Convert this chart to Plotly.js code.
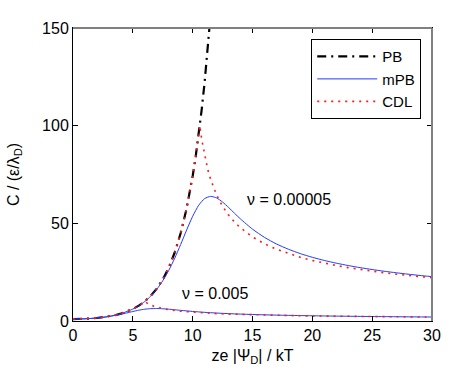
<!DOCTYPE html>
<html>
<head>
<meta charset="utf-8">
<script src="https://cdn.plot.ly/plotly-3.0.1.min.js"></script>
<style>html,body{margin:0;padding:0;background:#fff;}#chart{width:476px;height:374px;}</style>
</head>
<body>
<div id="chart"></div>
<script>
// PB (Poisson-Boltzmann)
var psiPB = [0,0.5,1,1.5,2,2.5,3,3.5,4,4.5,5,5.5,6,6.5,7,7.5,8,8.5,9,9.5,9.75,10,10.25,10.5,10.75,11,11.25,11.5];
var cPB   = [1.000,1.031,1.128,1.295,1.543,1.888,2.352,2.964,3.762,4.797,6.132,7.853,10.07,12.91,16.57,21.27,27.31,35.06,45.01,57.80,65.5,74.21,84.1,95.28,108.0,122.3,138.6,157.0];

// mPB, nu = 0.00005
var psiMPB1 = [0,1,2,3,4,5,5.5,6,6.5,7,7.5,8,8.5,9,9.5,10,10.5,11,11.5,12,12.5,13,13.5,14,15,16,17,18,19,20,21,22,23,24,25,26,27,28,29,30];
var cMPB1   = [1.000,1.128,1.543,2.351,3.758,6.115,7.817,9.99,12.75,16.24,20.58,25.88,32.15,39.22,46.64,53.6,59.22,62.68,63.8,63.01,60.9,58.12,55.13,52.22,47.01,42.81,39.44,36.75,34.49,32.61,31.00,29.61,28.39,27.31,26.35,25.48,24.69,23.97,23.31,22.70];

// mPB, nu = 0.005
var psiMPB2 = [0,1,2,3,4,4.5,5,5.5,6,6.5,7,7.5,8,9,10,11,12,13,14,15,16,17,18,19,20,21,22,23,24,25,26,27,28,29,30];
var cMPB2   = [1.000,1.125,1.527,2.276,3.430,4.136,4.863,5.529,6.038,6.328,6.390,6.272,6.039,5.451,4.895,4.436,4.069,3.774,3.532,3.331,3.161,3.014,2.886,2.773,2.672,2.581,2.499,2.425,2.356,2.294,2.236,2.182,2.132,2.085,2.041];

// CDL, nu = 0.00005
var psiCDL1 = [0,0.5,1,1.5,2,2.5,3,3.5,4,4.5,5,5.5,6,6.5,7,7.5,8,8.5,9,9.5,9.75,10,10.25,10.5,10.597,10.75,11,11.25,11.5,12,12.5,13,13.5,14,15,16,17,18,19,20,21,22,23,24,25,26,27,28,29,30];
var cCDL1   = [1.000,1.031,1.128,1.295,1.543,1.888,2.352,2.964,3.762,4.797,6.132,7.853,10.07,12.91,16.57,21.27,27.31,35.06,45.01,57.80,65.5,74.21,84.1,95.28,100.0,93.13,84.43,77.78,72.49,64.51,58.69,54.21,50.62,47.66,43.02,39.52,36.75,34.50,32.61,31.00,29.61,28.39,27.31,26.35,25.48,24.69,23.97,23.31,22.70,22.14];

// CDL, nu = 0.005
var psiCDL2 = [0,0.5,1,1.5,2,2.5,3,3.5,4,4.5,5,5.5,5.991,6.25,6.5,6.75,7,7.5,8,9,10,11,12,13,14,15,16,17,18,19,20,21,22,23,24,25,26,27,28,29,30];
var cCDL2   = [1.000,1.031,1.128,1.295,1.543,1.888,2.352,2.964,3.762,4.797,6.132,7.853,10.025,8.930,8.154,7.551,7.064,6.319,5.770,4.998,4.470,4.081,3.779,3.535,3.333,3.162,3.015,2.886,2.773,2.672,2.582,2.500,2.425,2.357,2.294,2.236,2.182,2.132,2.085,2.041,2.000];

var seriesNames = ['PB','mPB','CDL'];
var nuLabels = ['\u03bd = 0.00005','\u03bd = 0.005'];
var xTicks = [0,5,10,15,20,25,30];
var yTicks = [0,50,100,150];

var FONT = 'Liberation Sans, Arial, Helvetica, sans-serif';
var blue = '#1f3cff', red = '#ff1a1a';

var traces = [
  {x: psiPB, y: cPB, name: seriesNames[0], mode:'lines',
   line:{color:'#000', width:2.2, dash:'9px,5px,2px,5px'}},
  {x: psiMPB1, y: cMPB1, name: seriesNames[1], mode:'lines',
   line:{color:blue, width:1, shape:'spline', smoothing:0.6}},
  {x: psiMPB2, y: cMPB2, name: seriesNames[1], mode:'lines', showlegend:false,
   line:{color:blue, width:1, shape:'spline', smoothing:0.6}},
  {x: psiCDL1, y: cCDL1, name: seriesNames[2], mode:'lines',
   line:{color:red, width:1.6, dash:'2px,5px'}},
  {x: psiCDL2, y: cCDL2, name: seriesNames[2], mode:'lines', showlegend:false,
   line:{color:red, width:1.6, dash:'2px,5px'}}
];

var layout = {
  width: 476, height: 374,
  margin: {l:73, r:44, t:28, b:53, pad:0},
  paper_bgcolor:'#fff', plot_bgcolor:'#fff',
  font: {family: FONT, size: 16, color:'#000'},
  showlegend: true,
  legend: {x:0.97, y:0.962, xanchor:'right', yanchor:'top', bgcolor:'#fff',
           bordercolor:'#000', borderwidth:1, font:{family:FONT, size:15, color:'#000'},
           itemwidth:60, traceorder:'normal'},
  xaxis: {range:[0,30], tickvals:xTicks, ticktext:xTicks.map(String), ticks:'inside', ticklen:5,
          tickcolor:'#000', showline:true, linecolor:'#000', linewidth:1, mirror:'ticks',
          showgrid:false, zeroline:false, tickfont:{family:FONT, size:16},
          title:{text:'ze |\u03a8<sub>D</sub>| / kT', font:{family:FONT, size:16}, standoff:6}},
  yaxis: {range:[0,150], tickvals:yTicks, ticktext:yTicks.map(String), ticks:'inside', ticklen:5,
          tickcolor:'#000', showline:true, linecolor:'#000', linewidth:1, mirror:'ticks',
          showgrid:false, zeroline:false, tickfont:{family:FONT, size:16},
          title:{text:'C / (\u03b5/\u03bb<sub>D</sub>)', font:{family:FONT, size:16}, standoff:18}},
  shapes: [
    {type:'line', xref:'paper', yref:'paper', x0:0, x1:1, y0:1, y1:1, line:{color:'#808080', width:2}},
    {type:'line', xref:'paper', yref:'paper', x0:1, x1:1, y0:0, y1:1, line:{color:'#808080', width:2}}
  ],
  annotations: [
    {x:14.4, y:62, xref:'x', yref:'y', text:nuLabels[0], showarrow:false, xanchor:'left', yanchor:'middle',
     font:{family:FONT, size:16, color:'#000'}},
    {x:8.96, y:14.3, xref:'x', yref:'y', text:nuLabels[1], showarrow:false, xanchor:'left', yanchor:'middle',
     font:{family:FONT, size:16, color:'#000'}}
  ]
};

Plotly.newPlot('chart', traces, layout, {displayModeBar:false, staticPlot:true});
</script>
</body>
</html>
